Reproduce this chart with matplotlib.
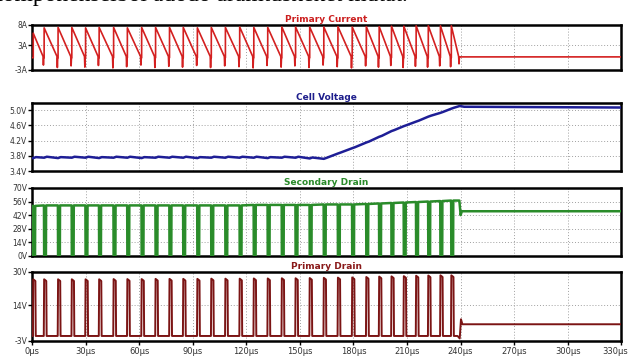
import matplotlib
matplotlib.use('Agg')
import matplotlib.pyplot as plt
from matplotlib.transforms import ScaledTranslation

# switching instants (us)
cycle_t = [0.7, 6.8, 14.6, 22.3, 30.0, 37.6, 45.7, 53.4, 61.4, 69.2, 77.0,
           84.7, 92.6, 100.4, 108.3, 116.3, 124.2, 132.0, 139.9, 147.6,
           155.5, 163.4, 171.3, 179.3, 187.2, 194.4, 201.3, 208.2, 215.1,
           221.9, 228.7, 234.8]
stop_t = 239.5
end_t = 330

# Primary Current (A)
ip_peak = [6.0, 7.3, 7.4, 7.4, 7.3, 7.4, 7.4, 7.3, 7.4, 7.4, 7.4,
           7.4, 7.3, 7.4, 7.4, 7.5, 7.4, 7.4, 7.5, 7.5,
           7.5, 7.5, 7.6, 7.5, 7.6, 7.6, 7.7, 7.7, 7.8,
           7.8, 7.8, 7.8]
ip_dip = [-1.8, -2.4, -2.0, -2.3, -1.9, -2.5, -2.2, -1.8, -2.4, -2.1, -2.3,
          -1.9, -2.4, -2.0, -2.2, -2.5, -1.9, -2.3, -2.0, -2.4,
          -1.8, -2.2, -2.5, -2.0, -2.3, -1.9, -2.4, -2.1, -2.3,
          -2.0, -2.2, -1.5]
ip_off = 0.2

# Cell Voltage (V)
cell_v = [3.74, 3.75, 3.74, 3.75, 3.75, 3.74, 3.75, 3.75, 3.74, 3.75, 3.75,
          3.75, 3.74, 3.75, 3.75, 3.75, 3.75, 3.74, 3.75, 3.75,
          3.73, 3.72, 3.86, 4.00, 4.15, 4.30, 4.45, 4.58, 4.70,
          4.83, 4.93, 5.04]
cell_end = [5.11, 5.09, 5.07]

# Secondary Drain (V)
sd_high = [51.5, 52.0, 52.0, 52.0, 52.0, 52.0, 52.0, 52.0, 52.0, 52.0, 52.0,
           52.0, 52.0, 52.0, 52.0, 52.0, 52.5, 52.5, 52.5, 52.5,
           52.5, 53.0, 53.0, 53.0, 53.5, 54.0, 54.5, 55.0, 55.5,
           56.0, 56.5, 57.0]
sd_off = [42.0, 46.0]

# Primary Drain (V)
pd_peak = [26.5, 26.5, 26.5, 26.5, 26.5, 26.5, 26.6, 26.6, 26.6, 26.7, 26.7,
           26.7, 26.7, 26.8, 26.8, 26.8, 26.9, 26.9, 27.0, 27.0,
           27.1, 27.2, 27.3, 27.4, 27.6, 27.8, 27.9, 28.0, 28.2,
           28.3, 28.4, 28.4]
pd_low = -0.6
pd_off = [-1.8, 7.4, 5.0]

xticks = list(range(0, 331, 30))
xlabels = ['%dµs' % v for v in xticks]


def primary_current():
    t, v = [0.0], [0.0]
    nxt = cycle_t[1:] + [stop_t]
    for k, tk in enumerate(cycle_t):
        tn = nxt[k]
        t += [tk, tk, tn - 0.6, tn - 0.4, tn - 0.2]
        v += [0.0, ip_peak[k], 0.3, ip_dip[k], 0.0]
    t += [stop_t, end_t]
    v += [ip_off, ip_off]
    return t, v


def cell_voltage():
    t, v = [0.0], [cell_v[0]]
    for k, tk in enumerate(cycle_t):
        t += [tk, tk + 1.5]
        v += [cell_v[k], cell_v[k] + 0.025]
    t += [stop_t, 242, end_t]
    v += cell_end
    return t, v


def secondary_drain():
    t, v = [0.0], [sd_high[0]]
    for k, tk in enumerate(cycle_t):
        t += [tk - 0.1, tk, tk + 1.0, tk + 1.1]
        v += [sd_high[k], 0.0, 0.0, sd_high[k]]
    t += [stop_t - 0.2, stop_t + 0.5, stop_t + 1.2, end_t]
    v += [sd_high[-1], sd_off[0], sd_off[1], sd_off[1]]
    return t, v


def primary_drain():
    t, v = [0.0], [pd_low]
    for k, tk in enumerate(cycle_t):
        t += [tk - 0.2, tk, tk + 1.2, tk + 1.4]
        v += [pd_low, pd_peak[k], pd_peak[k] - 0.8, pd_low]
    t += [stop_t - 1.2, stop_t, stop_t + 0.7, stop_t + 1.5, end_t]
    v += [pd_low, pd_off[0], pd_off[1], pd_off[2], pd_off[2]]
    return t, v


panels = [
    ('Primary Current', '#d42020', '#cc2020', primary_current, (-3, 8),
     [8, 3, -3], ['8A', '3A', '-3A'], 1.2, (0.0507, 0.8056, 0.934, 0.125)),
    ('Cell Voltage', '#1e1e96', '#1e1e8c', cell_voltage, (3.4, 5.19),
     [5.0, 4.6, 4.2, 3.8, 3.4], ['5.0V', '4.6V', '4.2V', '3.8V', '3.4V'], 1.8,
     (0.0507, 0.525, 0.934, 0.189)),
    ('Secondary Drain', '#2a8c2a', '#2a8a2a', secondary_drain, (0, 70),
     [70, 56, 42, 28, 14, 0], ['70V', '56V', '42V', '28V', '14V', '0V'], 1.8,
     (0.0507, 0.289, 0.934, 0.189)),
    ('Primary Drain', '#7b1414', '#8a1a1a', primary_drain, (-3, 30),
     [30, 14, -3], ['30V', '14V', '-3V'], 1.4, (0.0507, 0.0528, 0.934, 0.1917)),
]

fig = plt.figure(figsize=(6.31, 3.6), dpi=100)
# line of document text cropped at the top of the screenshot
fig.text(-0.015, 0.997, 'komponenseiből adódó áramtüskéket mutat.',
         family='Liberation Serif', fontsize=17, va='baseline', ha='left')

for i, (title, color, tcolor, func, ylim, yt, yl, lw, pos) in enumerate(panels):
    ax = fig.add_axes(pos)
    t, v = func()
    ax.plot(t, v, color=color, lw=lw, zorder=3)
    ax.set_xlim(0, end_t)
    ax.set_ylim(*ylim)
    ax.set_yticks(yt)
    ax.set_yticklabels(yl)
    ax.set_xticks(xticks)
    ax.grid(True, color='#a0a0a0', ls=(0, (1, 2)), lw=0.7)
    for s in ax.spines.values():
        s.set_linewidth(1.8)
    ax.tick_params(axis='y', length=3, width=1, pad=0.5, labelsize=5.5,
                   labelcolor='#333333')
    if i == 3:
        ax.set_xticklabels(xlabels)
        ax.tick_params(axis='x', length=3, width=1, pad=1.5, labelsize=6,
                       labelcolor='#333333')
        last = ax.get_xticklabels()[-1]
        last.set_transform(last.get_transform() +
                           ScaledTranslation(-6 / 100, 0, fig.dpi_scale_trans))
    else:
        ax.tick_params(axis='x', length=0, labelbottom=False)
    ax.set_title(title, color=tcolor, fontsize=6.5, fontweight='bold', pad=2)

fig.savefig('out.png', dpi=100)
